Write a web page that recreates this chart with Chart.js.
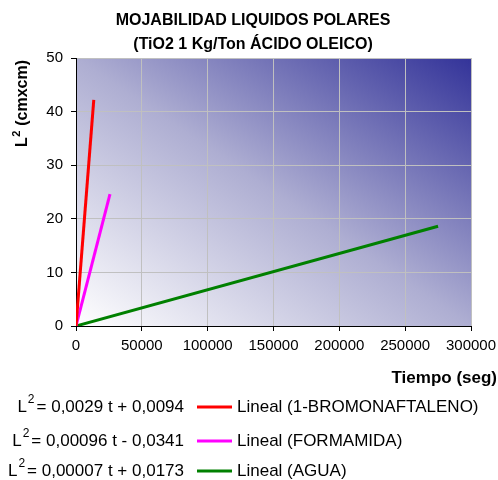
<!DOCTYPE html>
<html>
<head>
<meta charset="utf-8">
<script src="https://cdn.jsdelivr.net/npm/chart.js@4/dist/chart.umd.min.js"></script>
<style>
  html, body { margin: 0; padding: 0; background: #fff; }
  #wrap { width: 498px; height: 480px; }
</style>
</head>
<body>
<div id="wrap"><canvas id="mojChart" width="498" height="480"></canvas></div>
<script>
// Chart text
const titleLines = ['MOJABILIDAD LIQUIDOS POLARES', '(TiO2 1 Kg/Ton ÁCIDO OLEICO)'];
const xTitle = 'Tiempo (seg)';
const yTitle = ' (cmxcm)';

// Series (trend lines)
const seriesNames = ['Lineal (1-BROMONAFTALENO)', 'Lineal (FORMAMIDA)', 'Lineal (AGUA)'];
const equations = ['= 0,0029 t + 0,0094', '= 0,00096 t - 0,0341', '= 0,00007 t + 0,0173'];
const seriesColors = ['#ff0000', '#ff00ff', '#008000'];

const bromoT = [0, 13500];
const bromoL = [0, 42.2];
const formT = [0, 25800];
const formL = [0, 24.6];
const aguaT = [0, 275000];
const aguaL = [0, 18.6];

// Axis ranges
const xMax = 300000, xStep = 50000;
const yMax = 50, yStep = 10;

const FONT = "'Liberation Sans', Arial, sans-serif";

function pts(ts, ls) {
    return ts.map((t, i) => ({ x: t, y: ls[i] }));
}

const decor = {
    id: 'decor',
    beforeDraw(chart) {
        const { ctx, chartArea: a } = chart;
        ctx.save();
        // diagonal gradient, white bottom-left -> indigo top-right
        ctx.translate(a.left, a.top);
        ctx.scale(a.right - a.left, a.bottom - a.top);
        const g = ctx.createLinearGradient(0, 1, 1, 0);
        g.addColorStop(0, '#ffffff');
        g.addColorStop(0.5, '#aeaed2');
        g.addColorStop(1, '#333399');
        ctx.fillStyle = g;
        ctx.fillRect(0, 0, 1, 1);
        ctx.restore();
    },
    afterDraw(chart) {
        const ctx = chart.ctx;
        ctx.save();
        ctx.fillStyle = '#000';

        // title
        ctx.font = 'bold 16px ' + FONT;
        ctx.textAlign = 'center';
        ctx.textBaseline = 'middle';
        ctx.fillText(titleLines[0], 253, 21);
        ctx.fillText(titleLines[1], 253, 45);

        // x axis title
        ctx.font = 'bold 17px ' + FONT;
        ctx.textAlign = 'right';
        ctx.fillText(xTitle, 497, 378);

        // y axis title, rotated, with superscript
        ctx.save();
        ctx.translate(23, 104);
        ctx.rotate(-Math.PI / 2);
        ctx.font = 'bold 16px ' + FONT;
        const lw = ctx.measureText('L').width;
        ctx.font = 'bold 11px ' + FONT;
        const sw = ctx.measureText('2').width;
        ctx.font = 'bold 16px ' + FONT;
        const rw = ctx.measureText(yTitle).width;
        let x0 = -(lw + sw + rw) / 2;
        ctx.textAlign = 'left';
        ctx.fillText('L', x0, 0);
        ctx.font = 'bold 11px ' + FONT;
        ctx.fillText('2', x0 + lw + 0.5, -6);
        ctx.font = 'bold 16px ' + FONT;
        ctx.fillText(yTitle, x0 + lw + sw + 1, 0);
        ctx.restore();

        // legend with equations
        const rows = [407, 441, 471];
        chart.data.datasets.forEach((ds, i) => {
            const y = rows[i];
            ctx.font = '17px ' + FONT;
            ctx.textAlign = 'right';
            const eq = equations[i];
            const ew = ctx.measureText(eq).width;
            ctx.fillText(eq, 184, y);
            ctx.font = '12px ' + FONT;
            ctx.fillText('2', 184 - ew - 2, y - 7);
            const s2 = ctx.measureText('2').width;
            ctx.font = '17px ' + FONT;
            ctx.fillText('L', 184 - ew - 3 - s2, y);

            ctx.strokeStyle = ds.borderColor;
            ctx.lineWidth = 3;
            ctx.beginPath();
            ctx.moveTo(197, y);
            ctx.lineTo(232, y);
            ctx.stroke();

            ctx.textAlign = 'left';
            ctx.fillText(ds.label, 237, y);
        });
        ctx.restore();
    }
};

const chart = new Chart(document.getElementById('mojChart'), {
    type: 'scatter',
    data: {
        datasets: [
            { label: seriesNames[0], data: pts(bromoT, bromoL), borderColor: seriesColors[0] },
            { label: seriesNames[1], data: pts(formT, formL), borderColor: seriesColors[1] },
            { label: seriesNames[2], data: pts(aguaT, aguaL), borderColor: seriesColors[2] }
        ].map(d => Object.assign(d, {
            showLine: true,
            borderWidth: 3,
            pointRadius: 0,
            fill: false,
            tension: 0
        }))
    },
    options: {
        responsive: false,
        animation: false,
        layout: { padding: { left: 0, right: 27, top: 58, bottom: 124 } },
        scales: {
            x: {
                type: 'linear',
                min: 0, max: xMax,
                afterFit: s => { s.height = 30; s.paddingLeft = 0; s.paddingRight = 0; },
                ticks: {
                    stepSize: xStep,
                    color: '#000',
                    padding: 6,
                    maxRotation: 0,
                    font: { family: FONT, size: 15 },
                    callback: v => String(v)
                },
                grid: { color: '#c0c0c0', tickColor: '#000', tickLength: 5 },
                border: { color: '#000', width: 1 }
            },
            y: {
                type: 'linear',
                min: 0, max: yMax,
                afterFit: s => { s.width = 76; s.paddingTop = 0; s.paddingBottom = 0; },
                ticks: {
                    stepSize: yStep,
                    color: '#000',
                    padding: 8,
                    font: { family: FONT, size: 15 }
                },
                grid: { color: '#c0c0c0', tickColor: '#000', tickLength: 5 },
                border: { color: '#000', width: 1 }
            }
        },
        plugins: {
            legend: { display: false },
            title: { display: false },
            tooltip: { enabled: false }
        }
    },
    plugins: [decor]
});
</script>
</body>
</html>
